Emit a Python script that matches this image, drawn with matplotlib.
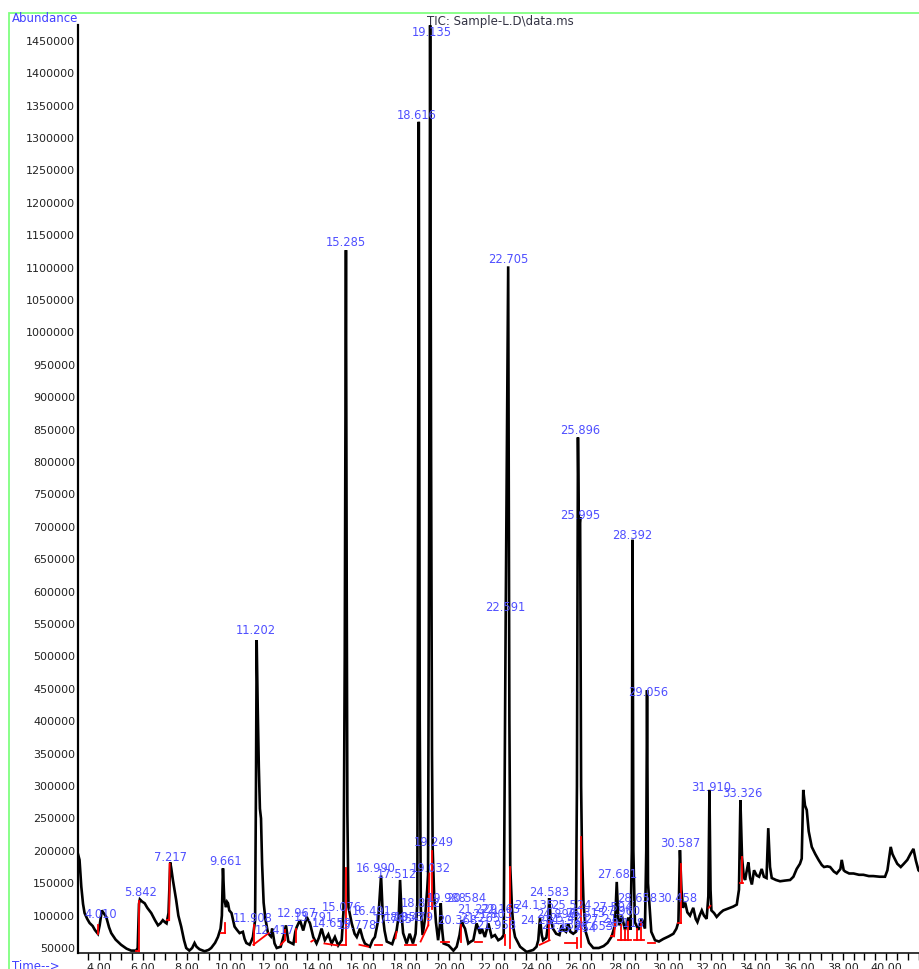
import matplotlib
matplotlib.use("Agg")
import matplotlib.pyplot as plt
from matplotlib.patches import Rectangle
from matplotlib.ticker import MultipleLocator, FormatStrFormatter

# ---------------- data ----------------
trace_time = [
    3.03, 3.10, 3.18, 3.26, 3.33, 3.45, 3.56, 3.70, 3.80, 3.94, 4.02, 4.12, 4.20, 4.32, 4.45,
    4.55, 4.75, 5.00, 5.25, 5.46, 5.69, 5.76, 5.82, 5.86, 5.95, 6.08, 6.20, 6.38, 6.55, 6.69,
    6.80, 6.91, 7.00, 7.08, 7.17, 7.25, 7.30, 7.37, 7.45, 7.52, 7.62, 7.75, 7.88, 7.98, 8.12,
    8.25, 8.36, 8.45, 8.59, 8.82, 9.00, 9.12, 9.30, 9.43, 9.55, 9.61, 9.66, 9.72, 9.80, 9.85,
    9.89, 9.95, 10.05, 10.19, 10.30, 10.42, 10.57, 10.65, 10.73, 10.88, 10.95, 11.03, 11.13, 11.17, 11.202,
    11.25, 11.30, 11.35, 11.40, 11.45, 11.52, 11.60, 11.72, 11.85, 11.91, 12.02, 12.12, 12.30, 12.45, 12.54,
    12.65, 12.88, 12.97, 13.03, 13.18, 13.33, 13.49, 13.64, 13.79, 13.94, 14.05, 14.17, 14.32, 14.48, 14.63,
    14.78, 14.93, 15.09, 15.17, 15.23, 15.285, 15.32, 15.35, 15.40, 15.55, 15.68, 15.78, 15.93, 16.05, 16.15,
    16.38, 16.50, 16.61, 16.76, 16.89, 16.97, 17.05, 17.15, 17.40, 17.60, 17.70, 17.76, 17.83, 17.90, 18.06,
    18.20, 18.35, 18.47, 18.55, 18.616, 18.66, 18.71, 18.79, 18.90, 19.00, 19.04, 19.09, 19.135, 19.18, 19.22,
    19.25, 19.32, 19.40, 19.50, 19.58, 19.62, 19.68, 19.75, 19.98, 20.20, 20.35, 20.48, 20.58, 20.65, 20.73,
    20.88, 21.00, 21.11, 21.26, 21.42, 21.50, 21.64, 21.80, 21.95, 22.10, 22.25, 22.40, 22.50, 22.591, 22.705,
    22.76, 22.80, 22.88, 22.95, 23.02, 23.25, 23.55, 23.85, 24.00, 24.08, 24.16, 24.24, 24.30, 24.45, 24.54,
    24.58, 24.65, 24.75, 24.90, 25.05, 25.15, 25.23, 25.35, 25.45, 25.55, 25.68, 25.80, 25.85, 25.896, 25.94,
    25.995, 26.04, 26.08, 26.15, 26.25, 26.40, 26.60, 26.85, 27.07, 27.25, 27.44, 27.59, 27.67, 27.74, 27.80,
    27.90, 28.05, 28.20, 28.30, 28.36, 28.392, 28.43, 28.50, 28.66, 28.81, 28.96, 29.02, 29.056, 29.10, 29.25,
    29.42, 29.60, 29.80, 30.05, 30.26, 30.40, 30.49, 30.56, 30.63, 30.70, 30.80, 30.90, 31.02, 31.17, 31.28,
    31.36, 31.46, 31.56, 31.66, 31.78, 31.86, 31.91, 31.96, 32.00, 32.12, 32.24, 32.40, 32.54, 32.70, 32.85,
    33.00, 33.16, 33.26, 33.326, 33.40, 33.48, 33.54, 33.62, 33.69, 33.77, 33.85, 33.95, 34.07, 34.18, 34.30,
    34.40, 34.52, 34.60, 34.68, 34.76, 34.95, 35.14, 35.35, 35.60, 35.75, 35.90, 36.05, 36.13, 36.20, 36.28,
    36.36, 36.45, 36.59, 36.75, 36.90, 37.05, 37.15, 37.30, 37.43, 37.60, 37.73, 37.90, 37.96, 38.05, 38.12,
    38.30, 38.50, 38.75, 38.95, 39.20, 39.40, 39.70, 39.94, 40.05, 40.20, 40.28, 40.35, 40.50, 40.66, 40.80,
    40.96, 41.10, 41.24, 41.35, 41.47, 41.54,
]
trace_abundance = [
    195000, 186000, 145000, 118000, 104000, 95000, 88600, 84000, 78000, 72000, 85000, 108000, 104000, 98000, 82000,
    73000, 63000, 55000, 49000, 46000, 46000, 50000, 118000, 125000, 122000, 119000, 112000, 104000, 93000, 85000,
    88000, 93000, 90000, 88000, 104000, 182000, 172000, 155000, 138000, 124000, 100000, 83000, 62000, 50000, 46000,
    50000, 57700, 52000, 48000, 45000, 47000, 50000, 58000, 67000, 80000, 100000, 173000, 125000, 113000, 121000,
    119000, 108000, 104000, 83000, 78000, 73000, 75000, 64000, 57700, 55000, 60000, 67000, 93000, 300000, 525000,
    420000, 330000, 265000, 250000, 180000, 120000, 95000, 73000, 68000, 80000, 57000, 50000, 52000, 70000, 85000,
    60000, 56000, 75000, 82000, 93000, 77000, 98000, 88000, 67000, 57000, 66000, 80000, 62000, 71000, 57000,
    67000, 54000, 62000, 105000, 500000, 1127000, 600000, 258000, 113000, 88000, 72000, 67000, 80000, 65000, 57000,
    52000, 62000, 67000, 93000, 162000, 100000, 77000, 60000, 56000, 77000, 100000, 155000, 100000, 73000, 57000,
    72000, 57000, 72000, 120000, 1325000, 400000, 110000, 70000, 95000, 140000, 163000, 700000, 1474000, 800000, 350000,
    205000, 130000, 90000, 62000, 85000, 119000, 80000, 57000, 54000, 46000, 52000, 70000, 93000, 85000, 80000,
    57000, 60000, 62000, 88000, 72000, 80000, 67000, 88000, 67000, 70000, 62000, 65000, 70000, 560000, 1102000,
    400000, 175000, 110000, 80000, 67000, 52000, 44000, 47000, 52000, 62000, 96000, 70000, 62000, 66000, 90000,
    127000, 95000, 80000, 72000, 70000, 85000, 78000, 75000, 88000, 75000, 72000, 75000, 300000, 838000, 690000,
    715000, 300000, 200000, 120000, 75000, 58000, 50000, 50000, 53000, 58000, 68000, 85000, 152000, 95000, 85000,
    100000, 78000, 97000, 78000, 200000, 680000, 200000, 90000, 78000, 95000, 80000, 200000, 448000, 150000, 75000,
    62000, 60000, 64000, 68000, 72000, 80000, 90000, 201000, 140000, 112000, 120000, 105000, 100000, 112000, 95000,
    90000, 100000, 108000, 100000, 95000, 130000, 294000, 140000, 108000, 104000, 98000, 104000, 108000, 110000, 112000,
    114000, 117000, 140000, 278000, 190000, 160000, 155000, 170000, 182000, 158000, 148000, 170000, 162000, 160000, 172000,
    160000, 158000, 235000, 175000, 158000, 155000, 153000, 154000, 155000, 160000, 172000, 180000, 188000, 294000, 270000,
    263000, 230000, 206000, 195000, 186000, 178000, 175000, 176000, 175000, 168000, 165000, 172000, 186000, 170000, 168000,
    165000, 165000, 163000, 163000, 161000, 161000, 160000, 160000, 170000, 206000, 195000, 190000, 180000, 175000, 180000,
    186000, 195000, 203000, 185000, 170000, 168000,
]

# red integration baseline segments: start time, start abundance, end time, end abundance
red_t0 = [3.94, 5.69, 5.80, 7.10, 7.20, 9.55, 9.75, 11.10, 11.05, 12.30, 12.50, 13.00, 13.70, 14.30,
          15.05, 15.30, 15.90, 16.60, 17.55, 18.00, 18.70, 19.05, 19.22, 19.65, 20.55, 21.20, 22.55,
          22.80, 24.15, 24.55, 25.30, 25.85, 26.02, 27.40, 27.55, 27.75, 27.85, 28.05, 28.20, 28.45,
          28.60, 28.80, 29.10, 30.45, 30.60, 31.88, 33.30, 33.38]
red_a0 = [72000, 46000, 46000, 93000, 93000, 73000, 73000, 55000, 55000, 55000, 62000, 60000, 60000, 57000,
          55000, 55000, 55000, 55000, 65000, 55000, 60000, 85000, 110000, 60000, 60000, 60000, 55000,
          50000, 55000, 62000, 58000, 50000, 52000, 68000, 68000, 62000, 62000, 62000, 62000, 62000,
          62000, 62000, 57000, 88000, 88000, 112000, 150000, 150000]
red_t1 = [3.94, 5.80, 5.80, 7.20, 7.22, 9.75, 9.75, 11.10, 11.75, 12.50, 12.50, 13.00, 13.80, 14.90,
          15.30, 15.30, 16.30, 16.95, 17.60, 18.50, 19.05, 19.10, 19.22, 20.00, 20.55, 21.50, 22.55,
          22.80, 24.60, 24.55, 25.80, 25.85, 26.02, 27.55, 27.60, 28.30, 27.85, 28.05, 28.20, 28.90,
          28.60, 28.80, 29.40, 30.60, 30.60, 31.95, 33.45, 33.38]
red_a1 = [86000, 46000, 122000, 93000, 180000, 73000, 88000, 85000, 73000, 62000, 78000, 80000, 62000, 54000,
          55000, 173000, 52000, 55000, 75000, 55000, 85000, 165000, 200000, 60000, 85000, 60000, 70000,
          175000, 62000, 90000, 58000, 65000, 222000, 68000, 90000, 62000, 85000, 78000, 90000, 62000,
          80000, 90000, 57000, 88000, 180000, 115000, 150000, 190000]

# peak labels: text, drawn at time, abundance
label_text = ["4.010", "5.842", "7.217", "9.661", "11.202", "11.908", "12.417", "12.967", "13.791",
              "14.659", "15.076", "15.285", "15.778", "16.491", "16.990", "17.512", "17.785", "18.053",
              "18.479", "18.616", "18.812", "19.032", "19.135", "19.249", "19.988", "20.584", "20.368",
              "21.229", "21.265", "21.803", "21.958", "22.165", "22.591", "22.705", "24.135", "24.281",
              "24.583", "24.896", "25.139", "25.421", "25.524", "25.754", "25.896", "25.995", "26.315",
              "26.653", "27.213", "27.594", "27.681", "27.960", "28.118", "28.392", "28.658", "29.056",
              "30.458", "30.587", "31.910", "33.326"]
label_time = [4.08, 5.91, 7.28, 9.76, 11.17, 11.04, 12.04, 13.04, 13.82,
              14.64, 15.10, 15.29, 15.79, 16.47, 16.66, 17.62, 17.44, 17.94,
              18.40, 18.53, 18.72, 19.17, 19.21, 19.30, 19.91, 20.78, 20.36,
              21.31, 21.45, 21.96, 22.14, 22.33, 22.56, 22.70, 23.92, 24.15,
              24.58, 24.89, 25.12, 25.48, 25.57, 25.80, 25.99, 25.99, 26.23,
              26.59, 27.09, 27.46, 27.67, 27.82, 28.00, 28.37, 28.62, 29.09,
              30.43, 30.56, 31.99, 33.40]
label_abund = [101000, 135000, 190000, 184000, 540000, 96000, 77000, 103000, 97000,
               88000, 113000, 1138000, 85000, 107000, 172000, 163000, 94000, 97000,
               97000, 1335000, 119000, 172000, 1463000, 213000, 127000, 127000, 92000,
               110000, 96000, 101000, 85000, 110000, 576000, 1112000, 115000, 92000,
               136000, 101000, 85000, 96000, 115000, 80000, 848000, 718000, 103000,
               83000, 94000, 113000, 163000, 107000, 88000, 687000, 127000, 445000,
               127000, 212000, 297000, 289000]

y_ticks = list(range(50000, 1450001, 50000))
x_label_ticks = [4.0 + 2.0 * i for i in range(19)]

# ---------------- figure ----------------
W, H = 920, 969
fig = plt.figure(figsize=(W / 100, H / 100), dpi=100)
fig.patch.set_facecolor("white")

ax = fig.add_axes([78 / W, 16 / H, 842 / W, 928 / H])
ax.set_xlim(3.03, 41.54)
ax.set_ylim(42300, 1474400)

ax.plot(trace_time, trace_abundance, color="black", lw=1.9, solid_joinstyle="miter", zorder=3)
for t0, a0, t1, a1 in zip(red_t0, red_a0, red_t1, red_a1):
    ax.plot([t0, t1], [a0, a1], color="#ff0000", lw=1.3, zorder=4)

label_color = "#4f4fff"
for txt, t, a in zip(label_text, label_time, label_abund):
    ax.text(t, a, txt, ha="center", va="center", fontsize=8.3, color=label_color, zorder=5,
            clip_on=False)

for s in ("top", "right"):
    ax.spines[s].set_visible(False)
ax.spines["left"].set_linewidth(1.6)
ax.spines["bottom"].set_linewidth(1.1)

ax.set_yticks(y_ticks)
ax.set_yticklabels([str(v) for v in y_ticks])
ax.tick_params(axis="y", length=0, pad=2, labelsize=8, labelcolor="#222222")

ax.set_xticks(x_label_ticks)
ax.xaxis.set_major_formatter(FormatStrFormatter("%.2f"))
ax.xaxis.set_minor_locator(MultipleLocator(0.5))
ax.tick_params(axis="x", which="both", length=5, width=1, direction="out", pad=2,
               labelsize=8, labelcolor="#222222")

# frame and header texts
fig.add_artist(Rectangle((9 / W, -0.2), 2.0, (H - 13) / H + 0.2, transform=fig.transFigure,
                         fill=False, edgecolor="#80ff80", lw=1.3))
fig.text(12 / W, 1 - 18 / H, "Abundance", ha="left", va="center", fontsize=8.5, color="#4040ff")
fig.text(427 / W, 1 - 21 / H, "TIC: Sample-L.D\\data.ms", ha="left", va="center",
         fontsize=8.5, color="#333344")
fig.text(12 / W, 1 - 967 / H, "Time-->", ha="left", va="center", fontsize=8.5, color="#4040ff")

fig.savefig("out.png", dpi=100)
